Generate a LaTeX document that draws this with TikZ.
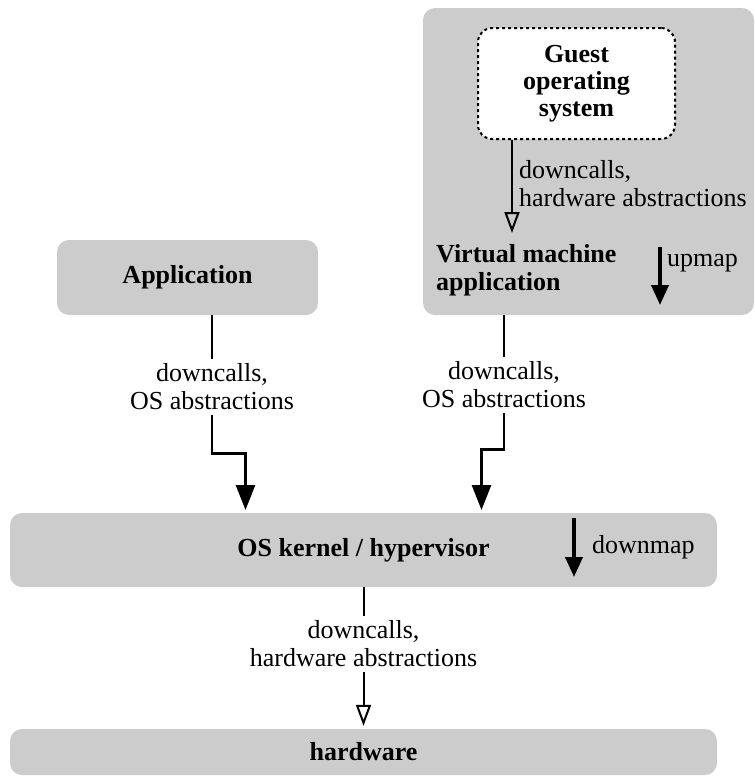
\documentclass[tikz,border=0pt]{standalone}
\usepackage{fontspec}
\setmainfont{Liberation Serif}
\usetikzlibrary{arrows.meta}
\definecolor{boxgray}{RGB}{204,204,204}
\begin{document}
\begin{tikzpicture}[x=1pt,y=-1pt,
  every node/.style={font=\fontsize{26}{28}\selectfont, inner sep=0pt},
  layer/.style={fill=boxgray, rounded corners=12pt,
    font=\fontsize{26}{28}\selectfont\bfseries},
  guestbox/.style={fill=white, draw=black, line width=2pt,
    dash pattern=on 3pt off 3pt, rounded corners=14pt,
    font=\fontsize{26}{27}\selectfont\bfseries},
  lbl/.style={align=center, inner sep=5pt},
  thinline/.style={line width=2pt},
  callarrow/.style={line width=2.6pt, -{Triangle[length=25pt,width=19pt]},
    shorten >=3pt},
  openarrow/.style={line width=2pt, -{Triangle[open,length=21pt,width=15pt]}},
  maparrow/.style={line width=4pt, -{Triangle[length=20pt,width=17pt]}}]
\useasboundingbox (0,0) rectangle (755,780);

% virtual machine application region with its guest OS
\node[layer, minimum width=331pt, minimum height=307pt] (vm) at (588.5,161.5) {};
\node[guestbox, minimum width=197pt, minimum height=111pt, align=center]
  (guest) at (576.5,83.5) {Guest\\operating\\system};
\node[anchor=north west, align=left, font=\fontsize{26}{28}\selectfont\bfseries]
  (vmtext) at (436,244) {Virtual machine\\application};
\coordinate (gtip) at (512,233);
\draw[openarrow] (guest.south -| gtip) -- (gtip);
\node[anchor=north west, align=left] (glabel) at (519,160)
  {downcalls,\\hardware abstractions};
\coordinate (up1) at (660,247);
\coordinate (up2) at (660,305);
\draw[maparrow] (up1) -- (up2);
\node[anchor=west] (uplabel) at (667,263) {upmap};

% ordinary application
\node[layer, minimum width=261pt, minimum height=75pt] (app) at (187.5,277.5)
  {Application};

% kernel and hardware layers
\node[layer, minimum width=707pt, minimum height=74pt] (kernel) at (363.5,550)
  {OS kernel / hypervisor};
\node[layer, minimum width=707pt, minimum height=46pt] (hw) at (363.5,752)
  {hardware};
\coordinate (dn1) at (574,518);
\coordinate (dn2) at (574,577);
\draw[maparrow] (dn1) -- (dn2);
\node[anchor=west] (dnlabel) at (592,547) {downmap};

% downcalls from the application
\node[lbl] (l1) at (212,387) {downcalls,\\OS abstractions};
\coordinate (k1) at (245.5,513);
\draw[thinline] (app.south -| l1) -- (l1.north);
\draw[callarrow] (l1.south) -- ++(0,38) -| (k1);

% downcalls from the virtual machine application
\node[lbl] (l2) at (504,385) {downcalls,\\OS abstractions};
\coordinate (k2) at (481.5,513);
\draw[thinline] (vm.south -| l2) -- (l2.north);
\draw[callarrow] (l2.south) -- ++(0,36) -| (k2);

% downcalls from the kernel to the hardware
\node[lbl] (l3) at (363.5,644) {downcalls,\\hardware abstractions};
\draw[thinline] (kernel.south) -- (l3.north);
\draw[openarrow, shorten >=3pt] (l3.south) -- (hw.north);
\end{tikzpicture}
\end{document}
